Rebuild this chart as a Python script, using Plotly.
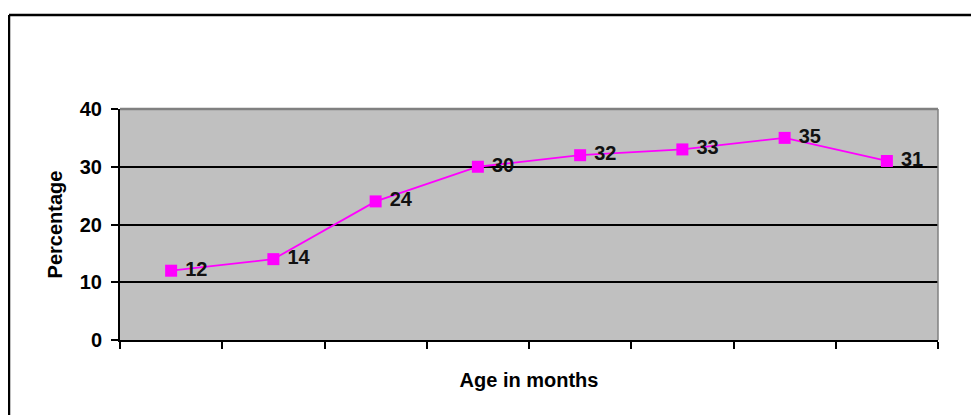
import plotly.graph_objects as go

# age groups (categories, unlabeled on the axis) and percentages
age_groups = ['1', '2', '3', '4', '5', '6', '7', '8']
percentages = [12, 14, 24, 30, 32, 33, 35, 31]
y_ticks = [0, 10, 20, 30, 40]

FONT = 'Liberation Sans, Arial, sans-serif'

fig = go.Figure()

fig.add_trace(go.Scatter(
    x=list(range(len(age_groups))),
    y=percentages,
    mode='lines+markers+text',
    line=dict(color='#FF00FF', width=1.8),
    marker=dict(symbol='square', size=12, color='#FF00FF'),
    text=[' ' + str(v) for v in percentages],
    textposition='middle right',
    textfont=dict(family=FONT, size=20, color='#111111', weight='bold'),
    hoverinfo='skip'
))

# the page body adds an 8px offset, so margins are shifted by 8
fig.update_layout(
    width=979,
    height=415,
    margin=dict(l=112, r=49, t=101, b=83),
    paper_bgcolor='white',
    plot_bgcolor='#C0C0C0',
    showlegend=False,
    font=dict(family=FONT, color='black'),
    xaxis=dict(
        range=[-0.5, len(age_groups) - 0.5],
        tickvals=[i - 0.5 for i in range(len(age_groups) + 1)],
        showticklabels=False,
        ticks='outside',
        ticklen=7,
        tickwidth=2,
        tickcolor='black',
        showgrid=False,
        zeroline=False,
        showline=True,
        linecolor='black',
        linewidth=2,
        title=dict(text='Age in months', font=dict(size=20, weight='bold'), standoff=25),
    ),
    yaxis=dict(
        range=[0, 40],
        tickvals=y_ticks,
        ticks='outside',
        ticklen=7,
        tickwidth=2,
        tickcolor='black',
        ticklabelstandoff=5,
        tickfont=dict(size=20, family=FONT, weight='bold'),
        showgrid=True,
        gridcolor='black',
        gridwidth=2,
        zeroline=False,
        showline=True,
        linecolor='black',
        linewidth=2,
        title=dict(text='Percentage', font=dict(size=20, weight='bold'), standoff=12),
    ),
)

# gray frame on top and right of the plot area
fig.add_shape(type='line', xref='paper', yref='paper', x0=0, x1=1, y0=1, y1=1,
              line=dict(color='#808080', width=2.5), layer='above')
fig.add_shape(type='line', xref='paper', yref='paper', x0=1, x1=1, y0=0, y1=1,
              line=dict(color='#808080', width=1.5), layer='above')

# outer chart border (top and left edges visible)
fig.add_shape(type='line', xref='paper', yref='paper', x0=-0.1357, x1=1.2, y0=1.407, y1=1.407,
              line=dict(color='black', width=2.5))
fig.add_shape(type='line', xref='paper', yref='paper', x0=-0.1357, x1=-0.1357, y0=1.407, y1=-0.6,
              line=dict(color='black', width=2.5))

fig.write_html("out.html")
